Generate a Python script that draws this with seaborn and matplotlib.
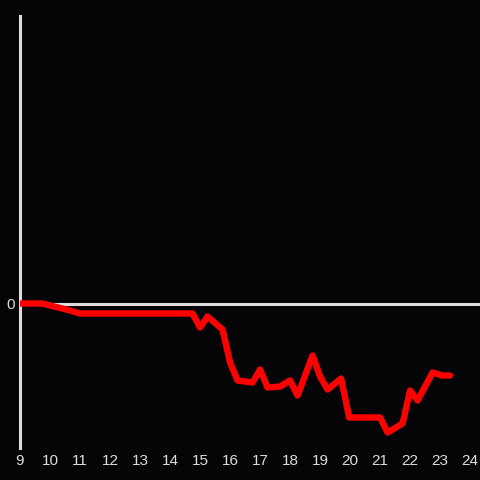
import pandas as pd
import matplotlib
matplotlib.use('Agg')
import matplotlib.pyplot as plt
import seaborn as sns

hours = [9.0, 9.75, 10.67, 11.0, 14.75, 15.0, 15.25, 15.75, 16.0, 16.25, 16.75,
         17.0, 17.25, 17.67, 18.0, 18.25, 18.75, 19.0, 19.25, 19.7, 19.97,
         21.0, 21.25, 21.75, 22.0, 22.25, 22.75, 23.07, 23.33]
values = [0, 0, -7, -10, -10, -24, -13, -26, -59, -77, -79,
          -66, -84, -83, -77, -92, -52, -73, -86, -75, -114,
          -114, -129, -120, -87, -97, -69, -72, -72]
xticks = list(range(9, 25))

df = pd.DataFrame({'hour': hours, 'value': values})

bg = '#050407'
fg = '#dddddd'

sns.set_theme(style='dark')
plt.rcParams['font.family'] = ['Liberation Sans', 'DejaVu Sans']

fig = plt.figure(figsize=(4.8, 4.8), dpi=100, facecolor=bg)
ax = fig.add_axes([20 / 480, 32 / 480, 460 / 480, 432 / 480])
ax.set_facecolor(bg)

ax.axhline(0, color=fg, lw=2.2, zorder=1)
sns.lineplot(data=df, x='hour', y='value', color='#ff0000', lw=4.6, ax=ax, zorder=3)

ax.set_xlim(9, 24.33)
ax.set_ylim(-144.5, 287.5)
ax.set_xticks(xticks)
ax.set_xticklabels([str(t) for t in xticks])
ax.set_yticks([0])
ax.set_yticklabels(['0'])
ax.tick_params(colors=fg, labelsize=11, length=0, pad=4)
ax.set_xlabel('')
ax.set_ylabel('')
ax.grid(False)

for s in ['top', 'right', 'bottom']:
    ax.spines[s].set_visible(False)
ax.spines['left'].set_visible(True)
ax.spines['left'].set_color(fg)
ax.spines['left'].set_linewidth(2.2)

fig.savefig('out.png', facecolor=bg)
